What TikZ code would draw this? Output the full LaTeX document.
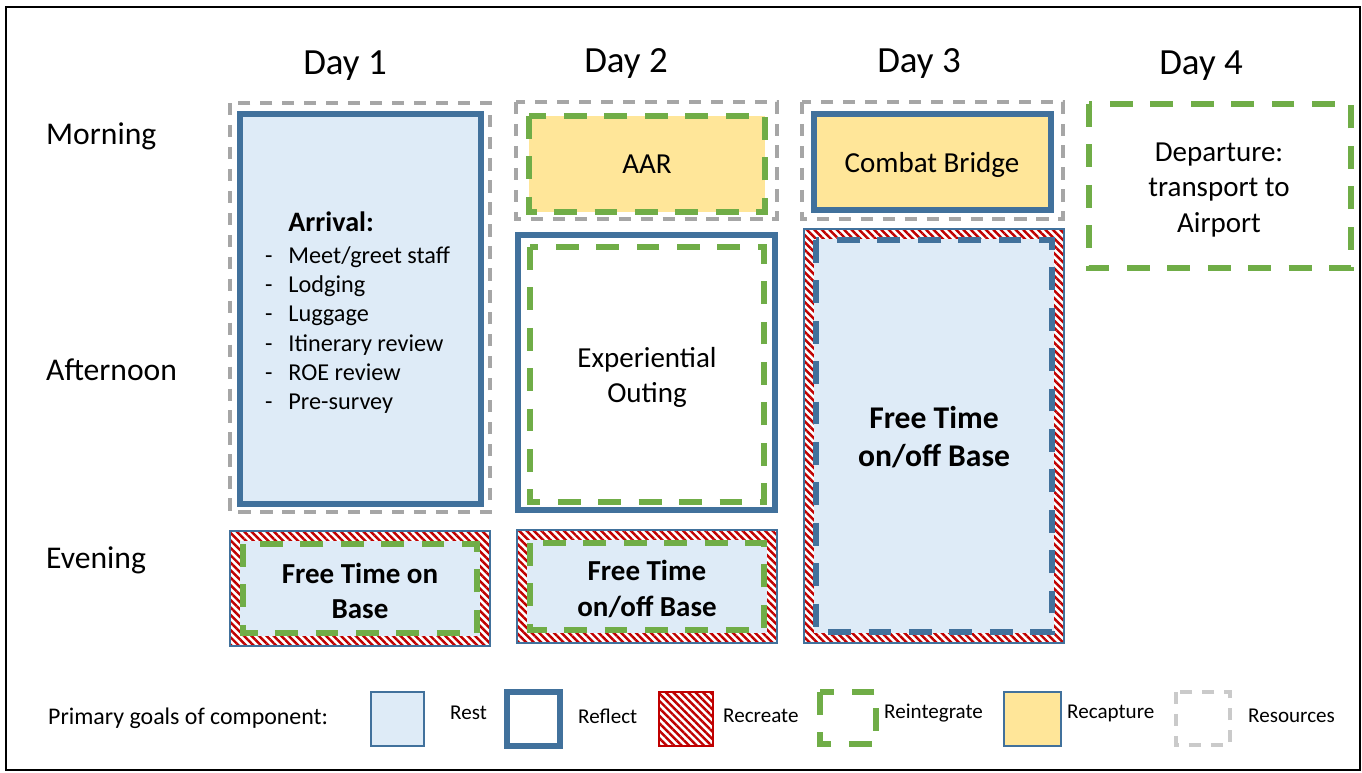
\documentclass[tikz,border=0pt]{standalone}
\usepackage{fontspec}
\setmainfont{Carlito}
\usetikzlibrary{patterns.meta, positioning}
\definecolor{restblue}{RGB}{222,235,247}
\definecolor{edgeblue}{RGB}{65,113,156}
\definecolor{intgreen}{RGB}{112,173,71}
\definecolor{capyellow}{RGB}{255,230,153}
\definecolor{recred}{RGB}{192,0,0}
\definecolor{resgray}{RGB}{166,166,166}

\begin{document}
\begin{tikzpicture}[x=0.02cm, y=-0.02cm,
  rest/.style={fill=restblue, draw=edgeblue, line width=0.9pt},
  reflect/.style={draw=edgeblue, line width=3.1pt},
  recreate/.style={pattern={Lines[angle=-45,distance=3pt,line width=1.4pt]}, pattern color=recred},
  reint/.style={draw=intgreen, line width=3.1pt, dash pattern=on 13pt off 10pt},
  recap/.style={fill=capyellow},
  resrc/.style={draw=resgray, line width=2.4pt, dash pattern=on 7pt off 5.5pt},
  daylbl/.style={font=\fontsize{21}{25}\selectfont},
  rowlbl/.style={font=\fontsize{18}{22}\selectfont, anchor=west},
  boxtxt/.style={font=\fontsize{16.5}{20}\selectfont, align=center},
  freetxt/.style={font=\fontsize{16.5}{20}\selectfont\bfseries, align=center},
  keytxt/.style={font=\fontsize{12}{14}\selectfont, anchor=west}]

\useasboundingbox (0,0) rectangle (1362,772);
\draw[line width=1.1pt] (6,7) rectangle (1360,770);

% Day and time labels
\node[daylbl] (day1) at (345,66) {Day 1};
\node[daylbl] (day2) at (626,63) {Day 2};
\node[daylbl] (day3) at (919,63) {Day 3};
\node[daylbl] (day4) at (1201,66) {Day 4};
\node[rowlbl] (morning) at (40,136) {Morning};
\node[rowlbl] (afternoon) at (40,370) {Afternoon};
\node[rowlbl] (evening) at (40,560) {Evening};

% Day 1
\draw[resrc] (230,103) rectangle (490,512);
\draw[rest, reflect] (240,114) rectangle (481,504);
\node[anchor=west, font=\fontsize{13.8}{16.7}\selectfont] (arrival) at (259,315)
  {\begin{tabular}{@{}l@{\hspace{9pt}}l@{}}
   & {\fontsize{16}{19}\selectfont\bfseries Arrival:}\\[1pt]
   - & Meet/greet staff\\
   - & Lodging\\
   - & Luggage\\
   - & Itinerary review\\
   - & ROE review\\
   - & Pre-survey
   \end{tabular}};
\fill[recreate] (230,531) rectangle (490,646);
\fill[restblue] (240,541) rectangle (480,636);
\draw[reint] (243,544) rectangle (477,633);
\draw[edgeblue, line width=0.9pt] (230,531) rectangle (490,646);
\node[freetxt] (free1) at (360,591) {Free Time on\\Base};

% Day 2
\draw[resrc] (516,102) rectangle (777,219);
\fill[recap] (529,116) rectangle (765,212);
\draw[reint] (529,116) rectangle (765,212);
\node[boxtxt] (aar) at (647,164) {AAR};
\draw[reflect] (518,235) rectangle (775,510);
\draw[reint] (530,247) rectangle (764,502);
\node[boxtxt] (outing) at (647,377) {Experiential\\Outing};
\fill[recreate] (517,530) rectangle (777,643);
\fill[restblue] (527,540) rectangle (767,633);
\draw[reint] (530,543) rectangle (764,630);
\draw[edgeblue, line width=0.9pt] (517,530) rectangle (777,643);
\node[freetxt] (free2) at (647,589) {Free Time\\on/off Base};

% Day 3
\draw[resrc] (802,102) rectangle (1063,219);
\draw[recap, reflect] (814,114) rectangle (1051,210);
\node[boxtxt] (bridge) at (932,165) {Combat Bridge};
\fill[recreate] (804,229) rectangle (1064,643);
\fill[restblue] (814,239) rectangle (1054,633);
\draw[edgeblue, line width=3.1pt, dash pattern=on 13pt off 10pt] (816,240) rectangle (1052,632);
\draw[edgeblue, line width=0.9pt] (804,229) rectangle (1064,643);
\node[freetxt, font=\fontsize{18}{21.5}\selectfont\bfseries] (free3) at (934,437) {Free Time\\on/off Base};

% Day 4
\draw[reint] (1089,104) rectangle (1351,268);
\node[boxtxt] (depart) at (1219,190) {Departure:\\transport to\\Airport};

% Legend
\node[keytxt, font=\fontsize{13.6}{16}\selectfont] (goals) at (42,718) {Primary goals of component:};
\draw[rest] (371,692) rectangle (424,746);
\node[keytxt] (krest) at (444,713) {Rest};
\draw[reflect] (507,692) rectangle (560,746);
\node[keytxt] (kreflect) at (572,716) {Reflect};
\fill[recreate] (659,692) rectangle (713,746);
\draw[recred, line width=0.9pt] (659,692) rectangle (713,746);
\node[keytxt] (krecreate) at (717,716) {Recreate};
\draw[reint] (820,692) rectangle (876,744);
\node[keytxt] (kreint) at (878,713) {Reintegrate};
\draw[rest, fill=capyellow] (1004,692) rectangle (1061,746);
\node[keytxt] (krecap) at (1061,713) {Recapture};
\draw[resrc, draw=resgray!60] (1176,692) rectangle (1230,745);
\node[keytxt] (kresrc) at (1242,716) {Resources};
\end{tikzpicture}
\end{document}
